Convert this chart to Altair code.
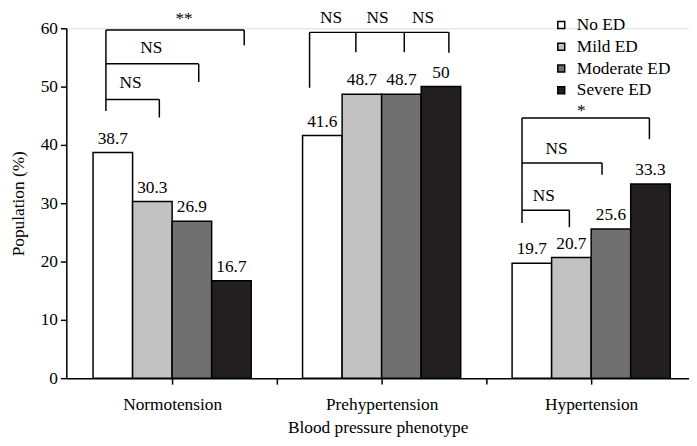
import altair as alt
import pandas as pd

groups = ["Normotension", "Prehypertension", "Hypertension"]
series = ["No ED", "Mild ED", "Moderate ED", "Severe ED"]
no_ed = [38.7, 41.6, 19.7]
mild_ed = [30.3, 48.7, 20.7]
moderate_ed = [26.9, 48.7, 25.6]
severe_ed = [16.7, 50.0, 33.3]
colors = ["#ffffff", "#c2c2c2", "#707070", "#231f20"]
x_title = "Blood pressure phenotype"
y_title = "Population (%)"
y_ticks = [0, 10, 20, 30, 40, 50, 60]

# significance brackets: (group, x_left, x_right, level)
bracket_h = [
    (0, -0.316, -0.061, 47.8), (0, -0.316, 0.127, 53.9), (0, -0.316, 0.344, 59.7),
    (1, -0.344, 0.321, 59.3),
    (2, -0.330, -0.104, 28.8), (2, -0.330, 0.052, 36.9), (2, -0.330, 0.278, 44.6),
]
# vertical legs: (group, x, bottom, top)
bracket_v = [
    (0, -0.316, 45.8, 59.7), (0, -0.061, 44.7, 47.8), (0, 0.127, 50.8, 53.9), (0, 0.344, 57.1, 59.7),
    (1, -0.344, 49.8, 59.3), (1, -0.123, 55.9, 59.3), (1, 0.108, 55.9, 59.3), (1, 0.321, 55.8, 59.3),
    (2, -0.330, 26.6, 44.6), (2, -0.104, 25.9, 28.8), (2, 0.052, 34.9, 36.9), (2, 0.278, 41.0, 44.6),
]
bracket_labels = [
    (0, -0.198, 50.6, "NS"), (0, -0.099, 56.6, "NS"), (0, 0.057, 61.5, "**"),
    (1, -0.241, 61.8, "NS"), (1, -0.019, 61.8, "NS"), (1, 0.198, 61.8, "NS"),
    (2, -0.226, 31.3, "NS"), (2, -0.165, 39.3, "NS"), (2, -0.047, 45.8, "*"),
]

FONT = "Liberation Serif, Times New Roman, serif"
FS = 17.5
bar_w = 0.1887
all_vals = [no_ed, mild_ed, moderate_ed, severe_ed]
rows = []
for i, g in enumerate(groups):
    for k, s in enumerate(series):
        x0 = i - 2 * bar_w + k * bar_w
        v = all_vals[k][i]
        rows.append(dict(group=g, series=s, x0=x0, x1=x0 + bar_w, xc=x0 + bar_w / 2,
                         value=v, base=0, label=f"{v:g}"))
bars_df = pd.DataFrame(rows)
h_df = pd.DataFrame([dict(x=g + a, x2=g + b, y=y) for g, a, b, y in bracket_h])
v_df = pd.DataFrame([dict(x=g + a, y=y0, y2=y1) for g, a, y0, y1 in bracket_v])
l_df = pd.DataFrame([dict(x=g + a, y=y, t=t) for g, a, y, t in bracket_labels])

xscale = alt.Scale(domain=[-0.505, 2.467], nice=False, zero=False)
yscale = alt.Scale(domain=[0, 60], nice=False)

label_expr = ("datum.value == 0 ? 'Normotension' : datum.value == 1 ? 'Prehypertension' : "
              "datum.value == 2 ? 'Hypertension' : ''")

bars = alt.Chart(bars_df).mark_bar(stroke="black", strokeWidth=1.5).encode(
    x=alt.X("x0:Q", scale=xscale,
            axis=alt.Axis(values=[0, 0.5, 1, 1.5, 2], labelExpr=label_expr, title=x_title,
                          tickSize=6, labelPadding=12, titlePadding=5, grid=False,
                          domainColor="black", tickColor="black", domainWidth=1.5, tickWidth=1.5,
                          labelColor="black", titleColor="black")),
    x2="x1:Q",
    y=alt.Y("value:Q", scale=yscale,
            axis=alt.Axis(values=y_ticks, title=y_title, tickSize=6, labelPadding=3,
                          titlePadding=13, grid=False, domainColor="black", tickColor="black",
                          domainWidth=1.5, tickWidth=1.5,
                          labelColor="black", titleColor="black")),
    y2="base:Q",
    fill=alt.Fill("series:N", sort=series, scale=alt.Scale(domain=series, range=colors),
                  legend=alt.Legend(title=None, orient="none", legendX=492, legendY=-12,
                                    symbolType="square", symbolSize=49,
                                    symbolStrokeColor="black", symbolStrokeWidth=1.5,
                                    labelColor="black",
                                    labelOffset=7, rowPadding=3, padding=0)),
)

values_text = alt.Chart(bars_df).mark_text(baseline="alphabetic", dy=-9, color="black").encode(
    x=alt.X("xc:Q", scale=xscale), y=alt.Y("value:Q", scale=yscale), text="label:N")

hrules = alt.Chart(h_df).mark_rule(color="black", strokeWidth=1.5).encode(
    x=alt.X("x:Q", scale=xscale), x2="x2:Q", y=alt.Y("y:Q", scale=yscale))
vrules = alt.Chart(v_df).mark_rule(color="black", strokeWidth=1.5).encode(
    x=alt.X("x:Q", scale=xscale), y=alt.Y("y:Q", scale=yscale), y2="y2:Q")
sig_text = alt.Chart(l_df).mark_text(baseline="middle", color="black").encode(
    x=alt.X("x:Q", scale=xscale), y=alt.Y("y:Q", scale=yscale), text="t:N")

chart = alt.layer(bars, values_text, hrules, vrules, sig_text).properties(
    width=630, height=354,
    autosize=alt.AutoSizeParams(type="none"),
    padding={"left": 59, "top": 18, "right": 0, "bottom": 58},
).configure_view(stroke=None).configure(
    background="white", font=FONT
).configure_axis(
    labelFont=FONT, labelFontSize=FS, titleFont=FONT, titleFontSize=FS, titleFontWeight="normal"
).configure_legend(
    labelFont=FONT, labelFontSize=FS
).configure_text(
    font=FONT, fontSize=FS
)

chart.save("out.html", embed_options={"renderer": "svg", "actions": False})
